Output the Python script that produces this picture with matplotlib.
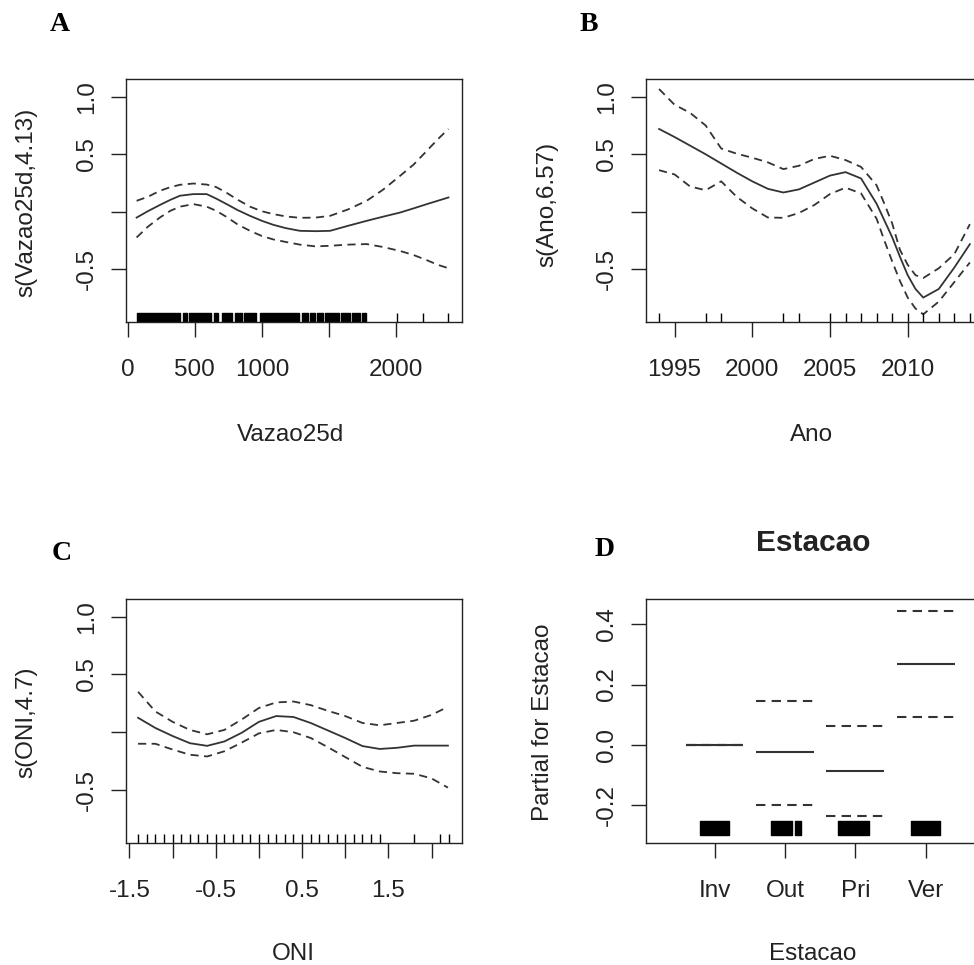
import matplotlib.pyplot as plt
import numpy as np

plt.rcParams['font.family'] = ['Liberation Sans', 'DejaVu Sans']

# ---- panel A: s(Vazao25d,4.13)
vaz_x = [67, 150, 241, 320, 390, 490, 589, 660, 738, 820, 912, 1000, 1086,
         1180, 1284, 1400, 1508, 1640, 1781, 1900, 2030, 2130, 2229, 2310, 2390]
vaz_fit = [-0.05, 0.005, 0.06, 0.105, 0.14, 0.154, 0.154, 0.115, 0.067, 0.015,
           -0.035, -0.078, -0.113, -0.142, -0.165, -0.168, -0.165, -0.122,
           -0.078, -0.043, -0.006, 0.03, 0.067, 0.096, 0.125]
vaz_up = [0.096, 0.13, 0.183, 0.215, 0.235, 0.246, 0.237, 0.215, 0.165, 0.105,
          0.045, 0.005, -0.02, -0.04, -0.052, -0.05, -0.035, 0.02, 0.096, 0.19,
          0.313, 0.41, 0.53, 0.63, 0.72]
vaz_lo = [-0.223, -0.13, -0.049, 0.01, 0.045, 0.067, 0.045, 0.009, -0.045, -0.11,
          -0.165, -0.21, -0.24, -0.262, -0.285, -0.30, -0.295, -0.285, -0.28,
          -0.305, -0.34, -0.375, -0.42, -0.46, -0.49]
# rug: dense runs (start, end) and single observations
vaz_rug_runs = [(70, 390), (415, 445), (460, 620), (640, 675), (700, 780),
                (800, 850), (870, 960), (985, 1280), (1300, 1345), (1355, 1395),
                (1410, 1455), (1470, 1575), (1590, 1655), (1670, 1730), (1745, 1775)]
vaz_rug_single = [2005, 2200, 2390]

# ---- panel B: s(Ano,6.57)
ano_x = [1994, 1995, 1996, 1997, 1998, 1999, 2000, 2001, 2002, 2003, 2004, 2005,
         2006, 2007, 2008, 2008.5, 2009, 2009.5, 2010, 2010.5, 2011, 2012, 2013, 2014]
ano_fit = [0.72, 0.65, 0.575, 0.50, 0.42, 0.34, 0.265, 0.20, 0.168, 0.195, 0.255,
           0.315, 0.345, 0.29, 0.07, -0.075, -0.22, -0.39, -0.55, -0.67, -0.745,
           -0.67, -0.484, -0.281]
ano_up = [1.067, 0.93, 0.86, 0.75, 0.55, 0.505, 0.47, 0.43, 0.371, 0.40, 0.46,
          0.487, 0.45, 0.39, 0.23, 0.07, -0.10, -0.33, -0.46, -0.55, -0.575,
          -0.49, -0.368, -0.107]
ano_lo = [0.362, 0.325, 0.22, 0.188, 0.265, 0.13, 0.03, -0.049, -0.052, -0.01,
          0.06, 0.155, 0.21, 0.16, -0.06, -0.25, -0.43, -0.60, -0.745, -0.84,
          -0.89, -0.78, -0.61, -0.44]
ano_rug = [1994, 1997, 1998, 2002, 2003, 2005, 2006, 2007, 2008, 2009, 2010,
           2011, 2012, 2013, 2014]

# ---- panel C: s(ONI,4.7)
oni_x = [-1.4, -1.2, -1.0, -0.8, -0.6, -0.4, -0.2, 0.0, 0.2, 0.4, 0.6, 0.8, 1.0,
         1.2, 1.4, 1.6, 1.8, 2.0, 2.19]
oni_fit = [0.125, 0.037, -0.033, -0.095, -0.118, -0.08, -0.005, 0.09, 0.14, 0.132,
           0.08, 0.015, -0.05, -0.12, -0.145, -0.135, -0.116, -0.116, -0.116]
oni_up = [0.35, 0.18, 0.09, 0.02, -0.018, 0.02, 0.11, 0.21, 0.258, 0.266, 0.235,
          0.185, 0.14, 0.08, 0.06, 0.08, 0.10, 0.15, 0.22]
oni_lo = [-0.10, -0.10, -0.15, -0.195, -0.21, -0.165, -0.09, -0.01, 0.02, 0.0,
          -0.05, -0.13, -0.215, -0.30, -0.34, -0.355, -0.36, -0.40, -0.48]
oni_rug = [-1.4, -1.3, -1.2, -1.1, -1.0, -0.9, -0.8, -0.7, -0.6, -0.5, -0.4, -0.3,
           -0.2, -0.1, 0.0, 0.1, 0.2, 0.3, 0.4, 0.5, 0.6, 0.7, 0.8, 0.9, 1.0, 1.1,
           1.2, 1.3, 1.4, 1.8, 2.1, 2.2]

# ---- panel D: Estacao (factor)
est_levels = ['Inv', 'Out', 'Pri', 'Ver']
est_fit = [0.0, -0.025, -0.088, 0.269]
est_up = [0.0, 0.144, 0.061, 0.444]
est_lo = [0.0, -0.199, -0.238, 0.093]
est_rug_runs = [(0.796, 1.209), (1.80, 2.10), (2.14, 2.23), (2.75, 3.20), (3.79, 4.20)]

W, H = 974, 965
fig = plt.figure(figsize=(W / 100, H / 100), dpi=100)
INK = '#222222'
LINE = '#333333'
FS = 17.5


def panel(l, t, r, b):
    ax = fig.add_axes([l / W, 1 - b / H, (r - l) / W, (b - t) / H])
    for s in ax.spines.values():
        s.set_linewidth(1.0)
        s.set_color(INK)
    ax.tick_params(direction='out', length=10.8, width=1.0, color=INK,
                   labelsize=FS, labelcolor=INK)
    ax.tick_params(axis='x', pad=16)
    ax.tick_params(axis='y', pad=9.5)
    return ax


def yticks(ax, vals, labs):
    ax.set_yticks(vals)
    ax.set_yticklabels(labs, rotation=90, va='center')


def curves(ax, x, fit, up, lo):
    ax.plot(x, fit, color=LINE, lw=1.3)
    ax.plot(x, up, color=LINE, lw=1.3, ls=(0, (4.5, 3)))
    ax.plot(x, lo, color=LINE, lw=1.3, ls=(0, (4.5, 3)))


RUG_H = 0.036
sm_ticks = [-0.5, 0.0, 0.5, 1.0]
sm_labs = ['-0.5', '', '0.5', '1.0']

# A
axA = panel(126, 79, 462, 322)
curves(axA, vaz_x, vaz_fit, vaz_up, vaz_lo)
axA.broken_barh([(a, b - a) for a, b in vaz_rug_runs], (0, RUG_H),
                transform=axA.get_xaxis_transform(), color='black')
axA.vlines(vaz_rug_single, 0, RUG_H, transform=axA.get_xaxis_transform(),
           color='black', lw=1.0)
axA.set_xlim(-12, 2491)
axA.set_ylim(-0.957, 1.154)
axA.set_xticks([0, 500, 1000, 1500, 2000])
axA.set_xticklabels(['0', '500', '1000', '', '2000'])
yticks(axA, sm_ticks, sm_labs)

# B
axB = panel(646.3, 79, 982.3, 322)
curves(axB, ano_x, ano_fit, ano_up, ano_lo)
axB.vlines(ano_rug, 0, RUG_H, transform=axB.get_xaxis_transform(),
           color='black', lw=1.0)
axB.set_xlim(1993.18, 2014.8)
axB.set_ylim(-0.957, 1.154)
axB.set_xticks([1995, 2000, 2005, 2010])
axB.set_xticklabels(['1995', '2000', '2005', '2010'])
yticks(axB, sm_ticks, sm_labs)

# C
axC = panel(126, 599, 462, 842.7)
curves(axC, oni_x, oni_fit, oni_up, oni_lo)
axC.vlines(oni_rug, 0, RUG_H, transform=axC.get_xaxis_transform(),
           color='black', lw=1.0)
axC.set_xlim(-1.54, 2.353)
axC.set_ylim(-0.957, 1.154)
axC.set_xticks([-1.5, -1.0, -0.5, 0.0, 0.5, 1.0, 1.5, 2.0])
axC.set_xticklabels(['-1.5', '', '-0.5', '', '0.5', '', '1.5', ''])
yticks(axC, sm_ticks, sm_labs)

# D
axD = panel(646.3, 599, 982.3, 842.7)
pos = np.arange(1, len(est_levels) + 1)
half = 0.41
axD.hlines(est_fit, pos - half, pos + half, color=LINE, lw=1.5)
axD.hlines(est_up, pos - half, pos + half, color=LINE, lw=1.5, linestyles=(0, (4.5, 3)))
axD.hlines(est_lo, pos - half, pos + half, color=LINE, lw=1.5, linestyles=(0, (4.5, 3)))
axD.broken_barh([(a, b - a) for a, b in est_rug_runs], (-0.298, 0.044), color='black')
axD.set_xlim(0.03, 4.805)
axD.set_ylim(-0.325, 0.484)
axD.set_xticks(pos)
axD.set_xticklabels(est_levels)
yticks(axD, [-0.2, 0.0, 0.2, 0.4], ['-0.2', '0.0', '0.2', '0.4'])

# axis titles
fig.text(291 / W, 1 - 441 / H, 'Vazao25d', ha='center', va='baseline', fontsize=FS, color=INK)
fig.text(812 / W, 1 - 441 / H, 'Ano', ha='center', va='baseline', fontsize=FS, color=INK)
fig.text(293 / W, 1 - 960 / H, 'ONI', ha='center', va='baseline', fontsize=FS, color=INK)
fig.text(813 / W, 1 - 960 / H, 'Estacao', ha='center', va='baseline', fontsize=FS, color=INK)

fig.text(26 / W, 1 - 202 / H, 's(Vazao25d,4.13)', rotation=90, ha='center', va='center',
         fontsize=FS, color=INK)
fig.text(547 / W, 1 - 204 / H, 's(Ano,6.57)', rotation=90, ha='center', va='center',
         fontsize=FS, color=INK)
fig.text(26 / W, 1 - 722 / H, 's(ONI,4.7)', rotation=90, ha='center', va='center',
         fontsize=FS, color=INK)
fig.text(543 / W, 1 - 722 / H, 'Partial for Estacao', rotation=90, ha='center', va='center',
         fontsize=FS, color=INK)

fig.text(813 / W, 1 - 551 / H, 'Estacao', ha='center', va='baseline', fontsize=21.5,
         fontweight='bold', color=INK)

# panel letters
for lab, x, y in [('A', 60, 31), ('B', 589, 31), ('C', 62, 560), ('D', 605, 556)]:
    fig.text(x / W, 1 - y / H, lab, ha='center', va='baseline', fontsize=20,
             fontweight='bold', family='Liberation Serif', color='black')

fig.savefig('out.png', dpi=100)
